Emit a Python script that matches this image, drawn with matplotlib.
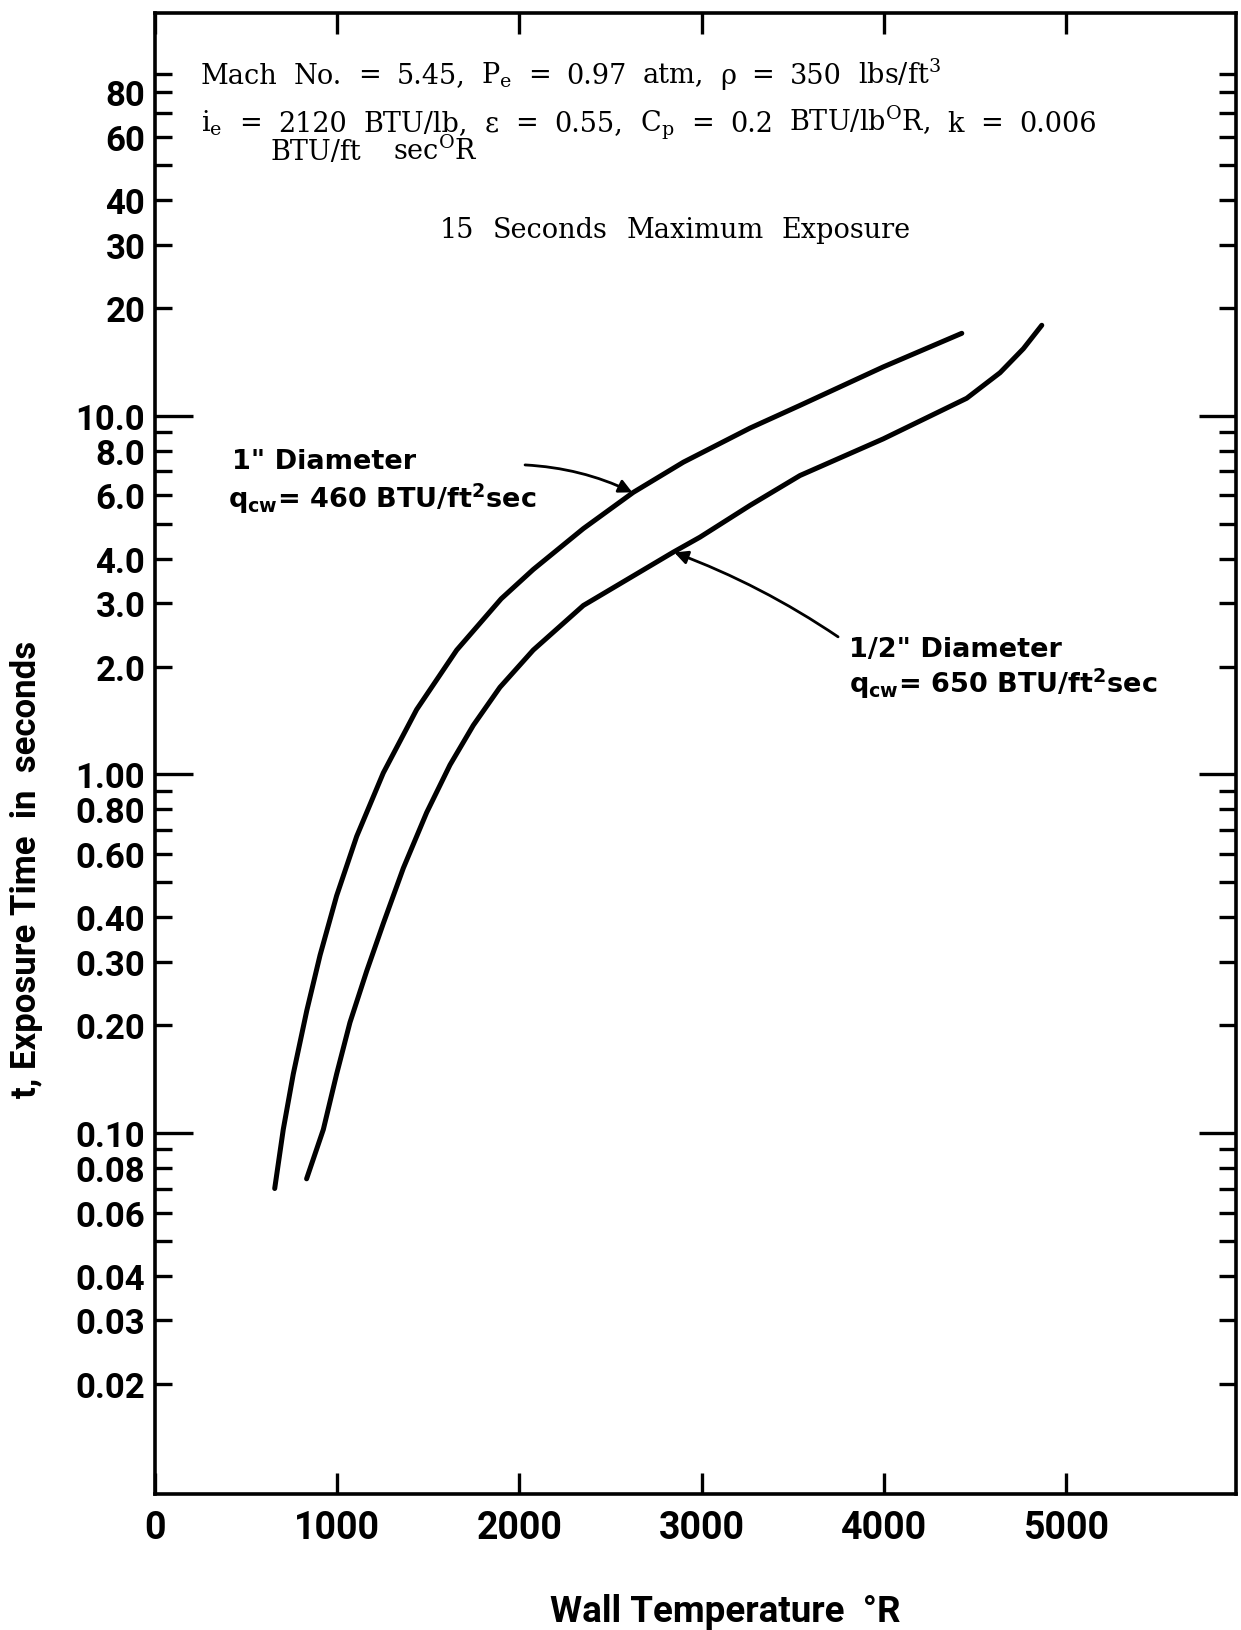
import matplotlib
matplotlib.use("Agg")
import matplotlib.pyplot as plt
from matplotlib.ticker import FixedLocator

# ---------------- data ----------------
temp_1in = [657, 704, 759, 833, 906, 997, 1107, 1253, 1436, 1656, 1900, 2076,
            2351, 2625, 2900, 3266, 3540, 3997, 4428]
time_1in = [0.0700, 0.1023, 0.1461, 0.2194, 0.3133, 0.459, 0.672, 1.010, 1.517, 2.223,
            3.09, 3.73, 4.85, 6.12, 7.43, 9.25, 10.7, 13.7, 17.0]

temp_half = [832, 924, 997, 1070, 1162, 1253, 1363, 1491, 1619, 1747, 1893, 2076,
             2351, 2845, 2991, 3266, 3540, 3997, 4455, 4638, 4766, 4867]
time_half = [0.0745, 0.1023, 0.1461, 0.2033, 0.283, 0.384, 0.548, 0.783, 1.063, 1.371,
             1.75, 2.223, 2.96, 4.17, 4.59, 5.63, 6.82, 8.63, 11.2, 13.2, 15.4, 17.9]

x_ticks = [0, 1000, 2000, 3000, 4000, 5000]
x_ticklabels = ["0", "1000", "2000", "3000", "4000", "5000"]
y_major = [0.1, 1.0, 10.0]
y_major_labels = ["0.10", "1.00", "10.0"]
y_minor = [0.02, 0.03, 0.04, 0.05, 0.06, 0.07, 0.08, 0.09,
           0.2, 0.3, 0.4, 0.5, 0.6, 0.7, 0.8, 0.9,
           2, 3, 4, 5, 6, 7, 8, 9,
           20, 30, 40, 50, 60, 70, 80, 90]
y_minor_labels = ["0.02", "0.03", "0.04", "", "0.06", "", "0.08", "",
                  "0.20", "0.30", "0.40", "", "0.60", "", "0.80", "",
                  "2.0", "3.0", "4.0", "", "6.0", "", "8.0", "",
                  "20", "30", "40", "", "60", "", "80", ""]

# ---------------- figure ----------------
W, H = 1241, 1631
fig = plt.figure(figsize=(W / 100, H / 100), dpi=100)
renderer = fig.canvas.get_renderer()

def fx(px):
    return px / W

def fy(py):
    return 1 - py / H

ax = fig.add_axes([fx(155), fy(1495), fx(1236) - fx(155), fy(14) - fy(1495)])
ax.set_yscale("log")
ax.set_xlim(0, 5933)
ax.set_ylim(0.00984, 133)

for s in ax.spines.values():
    s.set_linewidth(2.6)

SANS = ["Roboto", "DejaVu Sans"]
LAB = ["DejaVu Sans"]
SERIF = ["DejaVu Serif"]

ax.plot(temp_1in, time_1in, color="black", lw=3.6, solid_capstyle="round",
        solid_joinstyle="round")
ax.plot(temp_half, time_half, color="black", lw=3.6, solid_capstyle="round",
        solid_joinstyle="round")

# ticks
ax.set_xticks(x_ticks)
ax.set_xticklabels(x_ticklabels, fontfamily=SANS, fontweight="bold", fontsize=27)
ax.yaxis.set_major_locator(FixedLocator(y_major))
ax.yaxis.set_minor_locator(FixedLocator(y_minor))
ax.set_yticks(y_major, labels=y_major_labels)
ax.set_yticks(y_minor, labels=y_minor_labels, minor=True)
for lab in ax.get_yticklabels(which="both"):
    lab.set_fontfamily(SANS)
    lab.set_fontweight("bold")
    lab.set_fontsize(25)

ax.tick_params(axis="x", which="major", direction="in", length=15, width=2.4,
               top=True, bottom=True, pad=11)
ax.tick_params(axis="y", which="major", direction="in", length=27, width=2.4,
               left=True, right=True, pad=7)
ax.tick_params(axis="y", which="minor", direction="in", length=12, width=2.4,
               left=True, right=True, pad=7)

# ---------------- header text: words spread between the original's left/right ends ----------------
def justified(words, x0, x1, base, size=19.5):
    texts = [fig.text(0, fy(base), w, fontfamily=SERIF, fontsize=size, color="black",
                      ha="left", va="baseline") for w in words]
    widths = [t.get_window_extent(renderer).width for t in texts]
    gap = (x1 - x0 - sum(widths)) / max(len(words) - 1, 1)
    x = x0
    for t, w in zip(texts, widths):
        t.set_x(fx(x))
        x += w + gap

R = r"\mathregular"
justified(["Mach", "No.", "=", "5.45,", r"P$_{%s{e}}$" % R, "=", "0.97", "atm,",
           "ρ", "=", "350", r"lbs/ft$^{%s{3}}$" % R], 201, 941, 83.5)
justified([r"i$_{%s{e}}$" % R, "=", "2120", "BTU/lb,", "ε", "=", "0.55,",
           r"C$_{%s{p}}$" % R, "=", "0.2", r"BTU/lb$^{%s{O}}$R," % R, "k", "=", "0.006"],
          201, 1097, 131.5)
justified(["BTU/ft", r"sec$^{%s{O}}$R" % R], 271, 478, 160)
justified(["15", "Seconds", "Maximum", "Exposure"], 440, 911, 237.5)

# ---------------- curve labels ----------------
lab_kw = dict(fontfamily=LAB, fontweight="bold", fontsize=19.5, color="black",
              va="baseline", ha="left")
fig.text(fx(232), fy(469), "1\" Diameter", **lab_kw)
fig.text(fx(228), fy(508), r"q$_{\mathregular{cw}}$= 460 BTU/ft$^{\mathregular{2}}$sec", **lab_kw)
fig.text(fx(849), fy(657), "1/2\" Diameter", **lab_kw)
fig.text(fx(849), fy(693), r"q$_{\mathregular{cw}}$= 650 BTU/ft$^{\mathregular{2}}$sec", **lab_kw)

# leader arrows (callout positions)
ax.annotate("", xy=(2620, 6.12), xytext=(2031, 7.3),
            arrowprops=dict(arrowstyle="-|>", color="black", lw=2.0,
                            mutation_scale=20, shrinkA=0, shrinkB=0,
                            connectionstyle="arc3,rad=-0.1"))
ax.annotate("", xy=(2850, 4.16), xytext=(3749, 2.42),
            arrowprops=dict(arrowstyle="-|>", color="black", lw=2.0,
                            mutation_scale=20, shrinkA=0, shrinkB=0,
                            connectionstyle="arc3,rad=0.06"))

# axis labels
fig.text(fx(725), fy(1612), "Wall Temperature  °R", fontfamily=SANS, fontweight="bold",
         fontsize=26.5, ha="center", va="center")
fig.text(fx(27), fy(869), "t, Exposure Time  in  seconds", fontfamily=SANS,
         fontweight="bold", fontsize=25, ha="center", va="center", rotation=90)

fig.savefig("out.png", dpi=100)
